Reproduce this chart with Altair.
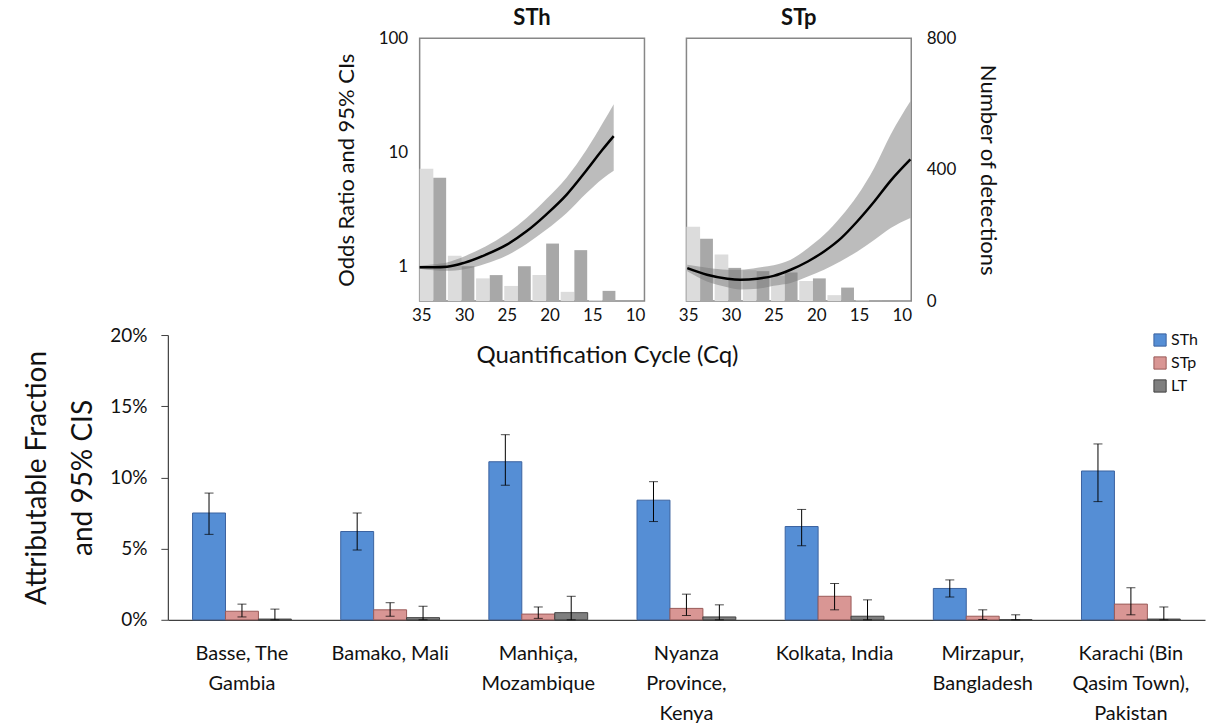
import altair as alt
import pandas as pd

# ---------------- bottom chart data (attributable fraction, %) ----------------
sites = ["Basse, The\nGambia", "Bamako, Mali", "Manhiça,\nMozambique", "Nyanza\nProvince,\nKenya",
         "Kolkata, India", "Mirzapur,\nBangladesh", "Karachi (Bin\nQasim Town),\nPakistan"]
series = ["STh", "STp", "LT"]
sth_af = [7.5, 6.2, 11.1, 8.4, 6.55, 2.2, 10.45]
sth_lo = [6.0, 4.9, 9.45, 6.9, 5.2, 1.6, 8.3]
sth_hi = [8.9, 7.5, 13.0, 9.7, 7.75, 2.8, 12.35]
stp_af = [0.6, 0.7, 0.4, 0.8, 1.65, 0.25, 1.1]
stp_lo = [0.2, 0.25, 0.1, 0.3, 0.7, 0.02, 0.35]
stp_hi = [1.1, 1.2, 0.9, 1.8, 2.55, 0.7, 2.25]
lt_af = [0.05, 0.15, 0.5, 0.2, 0.25, 0.0, 0.05]
lt_lo = [0.0, 0.0, 0.0, 0.0, 0.0, 0.0, 0.0]
lt_hi = [0.75, 0.95, 1.65, 1.05, 1.4, 0.35, 0.9]
y_ticks_pct = [0, 5, 10, 15, 20]

# ---------------- top panels data ----------------
# histogram bins (Cq), light = first bar of each pair, dark = second bar
light_x0 = [35.2, 31.9, 28.6, 25.3, 22.0, 18.7, 15.4]
light_x1 = [33.6, 30.3, 27.0, 23.7, 20.4, 17.1, 13.8]
dark_x0 = [33.6, 30.3, 27.0, 23.7, 20.4, 17.1, 13.8]
dark_x1 = [32.1, 28.8, 25.5, 22.2, 18.9, 15.6, 12.3]
sth_light_n = [403, 138, 69, 46, 79, 28, 3]
sth_dark_n = [375, 106, 79, 106, 175, 155, 31]
stp_light_n = [226, 142, 94, 76, 61, 18, 2]
stp_dark_n = [190, 101, 91, 87, 69, 41, 3]

sth_cq = [35.2, 33.5, 32.0, 30.0, 27.5, 25.0, 22.7, 20.4, 18.0, 15.7, 13.8, 12.5]
sth_or = [0.99, 0.99, 1.0, 1.08, 1.27, 1.56, 2.04, 2.86, 4.28, 6.95, 10.6, 13.9]
sth_or_lo = [0.96, 0.93, 0.92, 0.95, 1.06, 1.25, 1.58, 2.10, 2.95, 4.40, 5.90, 6.90]
sth_or_hi = [1.02, 1.05, 1.09, 1.23, 1.50, 1.95, 2.67, 3.90, 6.05, 10.5, 18.0, 26.5]

stp_cq = [35.1, 32.8, 30.4, 28.9, 26.9, 25.0, 23.0, 21.0, 19.1, 17.1, 15.2, 13.2, 11.3, 9.0]
stp_or = [0.97, 0.85, 0.785, 0.77, 0.785, 0.83, 0.94, 1.11, 1.36, 1.78, 2.5, 3.74, 5.67, 8.7]
stp_or_lo = [0.91, 0.74, 0.66, 0.63, 0.64, 0.68, 0.72, 0.82, 0.94, 1.12, 1.36, 1.72, 2.18, 2.67]
stp_or_hi = [1.04, 0.98, 0.94, 0.94, 0.98, 1.03, 1.15, 1.45, 1.90, 2.75, 4.2, 7.4, 14.4, 28.1]

cq_ticks = [35, 30, 25, 20, 15, 10]
or_ticks = [1, 10, 100]
n_ticks = [0, 400, 800]

FONT = "Lato"
FRAME = "#878787"

x_cq = dict(scale=alt.Scale(domain=[35.2, 8.9], nice=False, zero=False),
            axis=alt.Axis(values=cq_ticks, title=None, labelFontSize=17, labelPadding=6,
                          ticks=False, domain=False, grid=False, labelFlush=False, labelAngle=0))


def panel(name, l_n, d_n, cq, orv, lo, hi, left_axis, right_axis):
    bars_df = pd.DataFrame({
        "x0": light_x0 + dark_x0,
        "x1": light_x1 + dark_x1,
        "n": l_n + d_n,
        "grp": ["light"] * len(l_n) + ["dark"] * len(d_n),
    })
    curve_df = pd.DataFrame({"cq": cq, "or": orv, "lo": lo, "hi": hi})

    if right_axis:
        n_axis = alt.Axis(values=n_ticks, orient="right", title="Number of detections",
                          titleAngle=90, titleFontSize=22, titlePadding=20, labelFontSize=17,
                          labelPadding=15, ticks=False, domain=False, grid=False)
    else:
        n_axis = None
    bars = alt.Chart(bars_df).mark_rect().encode(
        x=alt.X("x0:Q", **x_cq),
        x2="x1:Q",
        y=alt.Y("n:Q", scale=alt.Scale(domain=[0, 800]), axis=n_axis),
        y2=alt.datum(0),
        fill=alt.Fill("grp:N", scale=alt.Scale(domain=["light", "dark"], range=["#dcdcdc", "#a8a8a8"]),
                      legend=None),
    )
    if left_axis:
        or_axis = alt.Axis(values=or_ticks, orient="left", title="Odds Ratio and 95% CIs",
                           titleFontSize=22, titlePadding=20, labelFontSize=17, labelPadding=12,
                           ticks=False, domain=False, grid=False, format="d")
    else:
        or_axis = None
    or_scale = alt.Scale(type="log", domain=[0.5, 100], nice=False)
    band = alt.Chart(curve_df).mark_area(color="#7a7a7a", opacity=0.5, interpolate="monotone").encode(
        x=alt.X("cq:Q", **x_cq),
        y=alt.Y("lo:Q", scale=or_scale, axis=or_axis),
        y2="hi:Q",
    )
    line = alt.Chart(curve_df).mark_line(color="black", strokeWidth=2.5, interpolate="monotone").encode(
        x=alt.X("cq:Q", **x_cq),
        y=alt.Y("or:Q", scale=or_scale, axis=or_axis),
    )
    return alt.layer(bars, alt.layer(band, line)).resolve_scale(y="independent").properties(
        width=225, height=263,
        title=alt.TitleParams(name, fontSize=22, fontWeight="bold", font=FONT, offset=-1, color="#111"),
    )


sth_panel = panel("STh", sth_light_n, sth_dark_n, sth_cq, sth_or, sth_or_lo, sth_or_hi, True, False)
stp_panel = panel("STp", stp_light_n, stp_dark_n, stp_cq, stp_or, stp_or_lo, stp_or_hi, False, True)

spacer = alt.Chart(pd.DataFrame({"a": [0]})).mark_point(opacity=0).encode(
    x=alt.value(0), y=alt.value(0)
).properties(width=134, height=263, view=alt.ViewBackground(stroke="transparent"))

top_row = alt.hconcat(spacer, sth_panel, stp_panel, spacing=31).resolve_scale(fill="independent")

# ---------------- bottom chart ----------------
rows = []
for i, s in enumerate(sites):
    rows.append({"site": s, "series": "STh", "af": sth_af[i], "lo": sth_lo[i], "hi": sth_hi[i]})
    rows.append({"site": s, "series": "STp", "af": stp_af[i], "lo": stp_lo[i], "hi": stp_hi[i]})
    rows.append({"site": s, "series": "LT", "af": lt_af[i], "lo": lt_lo[i], "hi": lt_hi[i]})
af_df = pd.DataFrame(rows)

x_site = alt.X("site:N", sort=sites, scale=alt.Scale(paddingInner=0.333, paddingOuter=0.1667),
               axis=alt.Axis(title=None, labelExpr="split(datum.label, '\\n')", labelAngle=0,
                             labelFontSize=20, labelLineHeight=30, labelPadding=24, ticks=False,
                             domainColor="#404040", domainWidth=1.2, labelBaseline="top"))
x_off = alt.XOffset("series:N", sort=series, scale=alt.Scale(paddingInner=0, paddingOuter=0))
y_axis = alt.Axis(values=y_ticks_pct, labelExpr="datum.value + '%'", title=["Attributable Fraction", "and 95% CIS"],
                  titleFontSize=28, titlePadding=12, titleLineHeight=46, labelFontSize=19, labelPadding=14,
                  tickSize=7, tickColor="#404040", domainColor="#404040", domainWidth=1.2, grid=False)
y_scale = alt.Scale(domain=[0, 20], nice=False)

bars_b = alt.Chart(af_df).mark_bar(strokeWidth=1).encode(
    x=x_site, xOffset=x_off,
    y=alt.Y("af:Q", scale=y_scale, axis=y_axis),
    fill=alt.Fill("series:N", sort=series,
                  scale=alt.Scale(domain=series, range=["#558ED5", "#D99694", "#7F7F7F"]),
                  legend=alt.Legend(title=None, orient="none", legendX=985, legendY=-3, symbolType="square",
                                    symbolSize=150, labelFontSize=16, symbolStrokeColor="#404040",
                                    symbolStrokeWidth=1, rowPadding=5, labelOffset=3, symbolOpacity=1)),
    stroke=alt.Stroke("series:N", sort=series,
                      scale=alt.Scale(domain=series, range=["#3b62a0", "#9a5a58", "#404040"]), legend=None),
)
err_rule = alt.Chart(af_df).mark_rule(color="black", strokeWidth=1).encode(
    x=x_site, xOffset=x_off,
    y=alt.Y("lo:Q", scale=y_scale, axis=y_axis), y2="hi:Q",
)
err_caps = alt.Chart(af_df).transform_fold(["lo", "hi"], as_=["end", "val"]).mark_tick(
    color="black", thickness=1, size=9
).encode(
    x=x_site, xOffset=x_off,
    y=alt.Y("val:Q", scale=y_scale, axis=y_axis),
)
cq_title = alt.Chart(pd.DataFrame({"t": ["Quantification Cycle (Cq)"]})).mark_text(
    fontSize=24, font=FONT, align="center", baseline="middle", color="#111"
).encode(text="t:N", x=alt.value(440), y=alt.value(21))

bottom = alt.layer(bars_b, err_rule, err_caps, cq_title).properties(
    width=1038, height=285, view=alt.ViewBackground(stroke="transparent")
)

chart = alt.vconcat(top_row, bottom, spacing=1).resolve_scale(
    fill="independent", stroke="independent"
).properties(
    padding={"left": 22, "top": 6, "right": 0, "bottom": 0}
).configure(font=FONT).configure_view(stroke=FRAME, strokeWidth=1.5).configure_axis(
    labelColor="#111", titleColor="#111", labelFont=FONT, titleFont=FONT, titleFontWeight="normal"
).configure_legend(labelColor="#111", labelFont=FONT)

chart.save("out.html", embed_options={"renderer": "svg", "actions": False})
